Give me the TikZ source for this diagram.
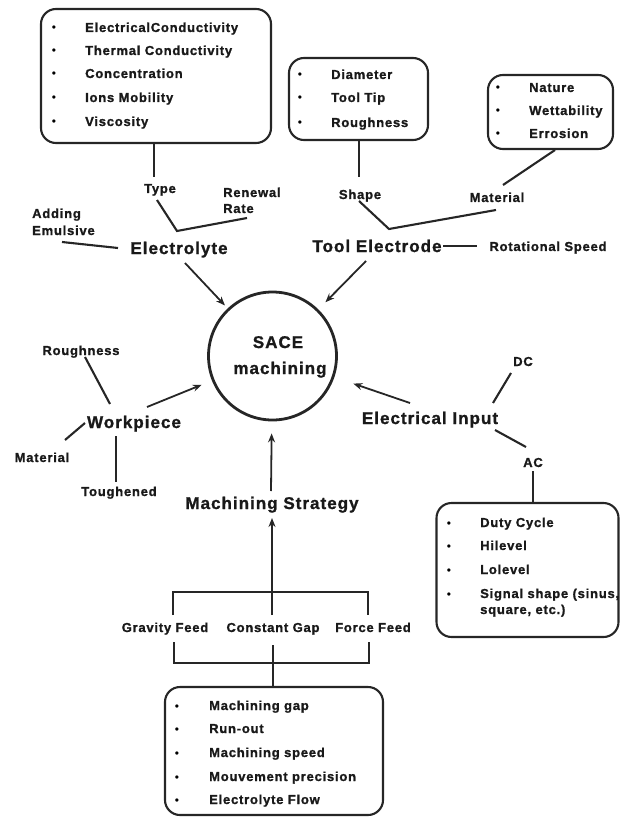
\documentclass[tikz,border=0pt]{standalone}
\usepackage{fontspec}
\setmainfont{Liberation Sans}[LetterSpace=6, BoldFeatures={FakeBold=1.2}]
\usetikzlibrary{arrows.meta}
\begin{document}
\begin{tikzpicture}[x=1pt,y=-1pt,
  sm/.style={font=\fontsize{13}{15}\selectfont\bfseries, inner sep=0pt, anchor=base, text=black!90},
  big/.style={font=\fontsize{17}{20}\selectfont\bfseries, inner sep=0pt, anchor=base, text=black!90},
  item/.style={sm, anchor=base west},
  bul/.style={font=\fontsize{12}{12}\selectfont, inner sep=0pt, anchor=base},
  box/.style={draw, line width=2.1pt, rounded corners=15pt, inner sep=0pt, draw=black!85},
  con/.style={line width=2.1pt, draw=black!85},
  arr/.style={line width=1.8pt, draw=black!85, -{Stealth[length=9pt,width=7pt]}},
]
\useasboundingbox (0,0) rectangle (621,818);

% ---------- boxes ----------
\node[box, minimum width=230pt, minimum height=134pt] (b1) at (156,76) {};
\node[box, minimum width=139pt, minimum height=82pt] (b2) at (358.5,99) {};
\node[box, minimum width=125pt, minimum height=74pt] (b3) at (550.5,112) {};
\node[box, minimum width=182pt, minimum height=134pt] (b4) at (527.5,570) {};
\node[box, minimum width=218pt, minimum height=128pt] (b5) at (274,751) {};

% ---------- box items ----------
\foreach \t/\y [count=\i] in {ElectricalConductivity/32, Thermal Conductivity/55, Concentration/78, Ions Mobility/102, Viscosity/126}{
  \node[bul] (b1b\i) at (54,\y) {\textbullet};
  \node[item] (b1i\i) at (85,\y) {\t};
}
\foreach \t/\y [count=\i] in {Diameter/79, Tool Tip/102, Roughness/127}{
  \node[bul] (b2b\i) at (300,\y) {\textbullet};
  \node[item] (b2i\i) at (331,\y) {\t};
}
\foreach \t/\y [count=\i] in {Nature/92, Wettability/115, Errosion/138}{
  \node[bul] (b3b\i) at (498,\y) {\textbullet};
  \node[item] (b3i\i) at (529,\y) {\t};
}
\foreach \t/\y [count=\i] in {Duty Cycle/527, Hilevel/550, Lolevel/574, {Signal shape (sinus,}/598}{
  \node[bul] (b4b\i) at (449,\y) {\textbullet};
  \node[item] (b4i\i) at (480,\y) {\t};
}
\node[item] (b4i5) at (480,614) {square, etc.)};
\foreach \t/\y [count=\i] in {Machining gap/710, Run-out/733, Machining speed/757, Mouvement precision/781, Electrolyte Flow/804}{
  \node[bul] (b5b\i) at (177,\y) {\textbullet};
  \node[item] (b5i\i) at (209,\y) {\t};
}

% ---------- labels ----------
\node[sm] (type) at (160,193) {Type};
\node[item] (renew) at (223,197) {Renewal};
\node[item] (rate) at (223,213) {Rate};
\node[item] (adding) at (32,218) {Adding};
\node[item] (emul) at (32,235) {Emulsive};
\node[big] (electrolyte) at (179,254) {Electrolyte};
\node[sm] (shape) at (360,199) {Shape};
\node[sm] (tmat) at (497,202) {Material};
\node[big] (tool) at (377,252) {Tool Electrode};
\node[sm] (rot) at (548,251) {Rotational Speed};

\node[draw=black!85, circle, line width=2.8pt, minimum size=128pt, inner sep=0pt] (sace) at (272.5,356) {};
\node[big] (sace1) at (278,348) {SACE};
\node[big] (sace2) at (280,374) {machining};

\node[sm] (wrough) at (81,355) {Roughness};
\node[big] (work) at (134,428) {Workpiece};
\node[sm] (wmat) at (42,462) {Material};
\node[sm] (tough) at (119,496) {Toughened};

\node[big] (elin) at (430,424) {Electrical Input};
\node[sm] (dc) at (523,366) {DC};
\node[sm] (ac) at (533,467) {AC};

\node[big] (strat) at (272,509) {Machining Strategy};
\node[sm] (grav) at (165,632) {Gravity Feed};
\node[sm] (cgap) at (273,632) {Constant Gap};
\node[sm] (force) at (373,632) {Force Feed};

% ---------- coordinates ----------
\coordinate (typetop) at (154,177);
\coordinate (t1) at (157,200);
\coordinate (tj) at (177,231);
\coordinate (t2) at (247,218);
\coordinate (ae1) at (62,242);
\coordinate (ae2) at (118,248);
\coordinate (shapetop) at (359,177);
\coordinate (s1) at (359,201);
\coordinate (sj) at (389,229);
\coordinate (s2) at (496,210);
\coordinate (m1) at (503,185);
\coordinate (m2) at (555,150);
\coordinate (r1) at (443,246);
\coordinate (r2) at (477,246);
\coordinate (wr1) at (85,357);
\coordinate (wr2) at (110,404);
\coordinate (wm1) at (65,440);
\coordinate (wm2) at (85,423);
\coordinate (wt1) at (116,436);
\coordinate (wt2) at (116,482);
\coordinate (dc1) at (493,403);
\coordinate (dc2) at (511,373);
\coordinate (ac1) at (495,430);
\coordinate (ac2) at (526,447);
\coordinate (acb) at (533,471);
\coordinate (ea) at (185,263);
\coordinate (ta) at (366,261);
\coordinate (wa) at (147,407);
\coordinate (ia) at (410,403);
\coordinate (sa) at (271,491);
\coordinate (stip) at (272,518);
\coordinate (bt) at (272,592);
\coordinate (btl) at (173,592);
\coordinate (btr) at (368,592);
\coordinate (btl2) at (173,615);
\coordinate (btr2) at (368,615);
\coordinate (bc) at (272,615);
\coordinate (bbl) at (174,642);
\coordinate (bbr) at (369,642);
\coordinate (bbl2) at (174,663);
\coordinate (bbr2) at (369,663);
\coordinate (bb) at (273,663);
\coordinate (bbc) at (273,645);

% ---------- connectors ----------
\draw[con] (b1.south -| typetop) -- (typetop);
\draw[con] (t1) -- (tj) -- (t2);
\draw[con] (ae1) -- (ae2);
\draw[con] (b2.south -| shapetop) -- (shapetop);
\draw[con] (s1) -- (sj) -- (s2);
\draw[con] (m1) -- (m2);
\draw[con] (r1) -- (r2);
\draw[con] (wr1) -- (wr2);
\draw[con] (wm1) -- (wm2);
\draw[con] (wt1) -- (wt2);
\draw[con] (dc1) -- (dc2);
\draw[con] (ac1) -- (ac2);
\draw[con] (acb) -- (b4.north -| acb);
\draw[con] (btl2) -- (btl) -- (btr) -- (btr2);
\draw[con] (bbl) -- (bbl2) -- (bbr2) -- (bbr);
\draw[con] (bbc) -- (b5.north -| bbc);

\draw[arr, shorten >=4pt] (ea) -- (sace);
\draw[arr, shorten >=10pt] (ta) -- (sace);
\draw[arr, shorten >=11pt] (wa) -- (sace);
\draw[arr, shorten >=20pt] (ia) -- (sace);
\draw[arr, shorten >=12pt] (sa) -- (sace);
\draw[arr] (bc) -- (stip);
\end{tikzpicture}
\end{document}
